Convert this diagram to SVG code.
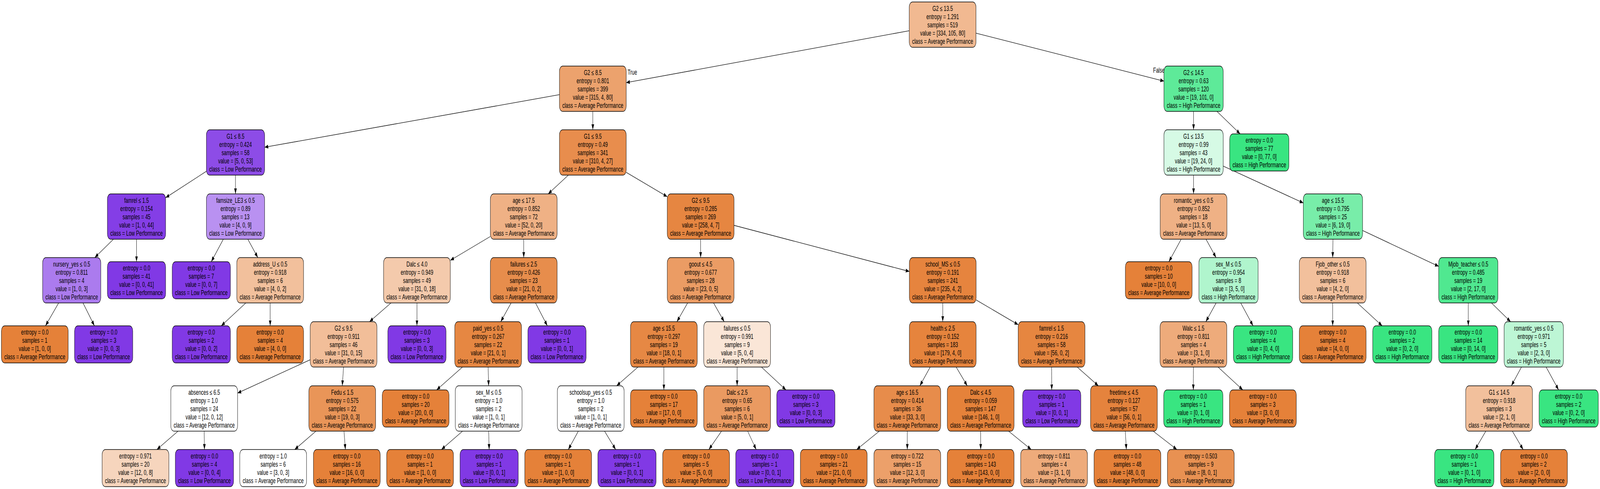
<svg xmlns="http://www.w3.org/2000/svg" width="6159" height="1251" viewBox="0 0 6159 1251" preserveAspectRatio="none" style="width:100vw;height:100vh;display:block">
<style>
.n rect{stroke:#000;stroke-width:1.3}
text{font-family:"Liberation Sans",Arial,Helvetica,sans-serif;font-size:18px;fill:#000}
.n text{text-anchor:middle}
.e line{stroke:#000;stroke-width:1.3;fill:none;marker-end:url(#ah)}
</style>
<defs>
<marker id="ah" markerUnits="userSpaceOnUse" markerWidth="16" markerHeight="12" refX="14" refY="5" orient="auto"><path d="M0,0 L14,5 L0,10 Z" fill="#000"/></marker>
</defs>
<rect width="6159" height="1251" fill="#fff"/>
<g id="connectors" class="e">
<line x1="3500" y1="78.6" x2="2410.5" y2="211.4"/>
<line x1="3757" y1="84.8" x2="4480.5" y2="207.6"/>
<line x1="2153.5" y1="242.2" x2="1018.5" y2="376.7"/>
<line x1="2282" y1="285" x2="2282" y2="332"/>
<line x1="4594.5" y1="285" x2="4594.5" y2="332"/>
<line x1="4684.5" y1="285" x2="4773.8" y2="342.5"/>
<line x1="794.5" y1="438.2" x2="637.5" y2="505.8"/>
<line x1="906.5" y1="448" x2="906.5" y2="496"/>
<line x1="2187.9" y1="448" x2="2110.1" y2="496"/>
<line x1="2410.5" y1="440.8" x2="2568.5" y2="503.2"/>
<line x1="4594.5" y1="448" x2="4594.5" y2="496"/>
<line x1="4708.5" y1="424.9" x2="5017" y2="519.2"/>
<line x1="436.7" y1="612" x2="364.8" y2="659"/>
<line x1="525.5" y1="612" x2="525.5" y2="669.5"/>
<line x1="859.7" y1="612" x2="813.3" y2="669.5"/>
<line x1="954" y1="612" x2="992.5" y2="659"/>
<line x1="1887.5" y1="605" x2="1733.5" y2="666"/>
<line x1="2016" y1="612" x2="2016" y2="659"/>
<line x1="2697" y1="612" x2="2697" y2="659"/>
<line x1="2825.5" y1="576.5" x2="3500.5" y2="694.5"/>
<line x1="4546.8" y1="612" x2="4499.5" y2="669.5"/>
<line x1="4642.4" y1="612" x2="4681.1" y2="659"/>
<line x1="5131" y1="612" x2="5130" y2="659"/>
<line x1="5245" y1="589.7" x2="5538" y2="681.3"/>
<line x1="225.8" y1="775" x2="175.1" y2="833.5"/>
<line x1="319.5" y1="775" x2="363.4" y2="833.5"/>
<line x1="946.3" y1="775" x2="851.7" y2="833.5"/>
<line x1="1040" y1="775" x2="1040" y2="833.5"/>
<line x1="1505.1" y1="775" x2="1422.4" y2="823"/>
<line x1="1605" y1="775" x2="1605" y2="833.5"/>
<line x1="1967.5" y1="775" x2="1927.5" y2="823"/>
<line x1="2061.3" y1="775" x2="2106.9" y2="833.5"/>
<line x1="2647" y1="775" x2="2605.6" y2="823"/>
<line x1="2746.7" y1="775" x2="2787.8" y2="823"/>
<line x1="3629" y1="775" x2="3629" y2="823"/>
<line x1="3757.5" y1="767.3" x2="3919.5" y2="830.7"/>
<line x1="4681.3" y1="775" x2="4641.7" y2="823"/>
<line x1="4776" y1="775" x2="4823.5" y2="833.5"/>
<line x1="5130" y1="775" x2="5130" y2="833.5"/>
<line x1="5224.8" y1="775" x2="5320.4" y2="833.5"/>
<line x1="5652" y1="775" x2="5652" y2="833.5"/>
<line x1="5741.1" y1="775" x2="5814.9" y2="823"/>
<line x1="1194" y1="920.3" x2="914.5" y2="1005.7"/>
<line x1="1322.5" y1="939" x2="1317.5" y2="987"/>
<line x1="1780.3" y1="939" x2="1680.8" y2="997.5"/>
<line x1="1879" y1="939" x2="1881" y2="987"/>
<line x1="2455.9" y1="939" x2="2373.6" y2="987"/>
<line x1="2555.5" y1="939" x2="2555.5" y2="997.5"/>
<line x1="2837.5" y1="939" x2="2837.5" y2="987"/>
<line x1="2931" y1="939" x2="3025.4" y2="997.5"/>
<line x1="3580.7" y1="939" x2="3540.8" y2="987"/>
<line x1="3680.6" y1="939" x2="3723.4" y2="987"/>
<line x1="4048" y1="939" x2="4048.5" y2="997.5"/>
<line x1="4146.5" y1="939" x2="4228" y2="987"/>
<line x1="4594" y1="939" x2="4593.5" y2="997.5"/>
<line x1="4688.6" y1="939" x2="4784" y2="997.5"/>
<line x1="5856.8" y1="939" x2="5817.7" y2="987"/>
<line x1="5951.6" y1="939" x2="5999.6" y2="997.5"/>
<line x1="685.4" y1="1103" x2="603.9" y2="1150"/>
<line x1="786" y1="1103" x2="787" y2="1150"/>
<line x1="1216.3" y1="1103" x2="1134.4" y2="1150"/>
<line x1="1324.2" y1="1103" x2="1329.5" y2="1150"/>
<line x1="1780.6" y1="1103" x2="1699.2" y2="1150"/>
<line x1="1881" y1="1103" x2="1883" y2="1150"/>
<line x1="2226.3" y1="1103" x2="2187.6" y2="1150"/>
<line x1="2327.1" y1="1103" x2="2370" y2="1150"/>
<line x1="2777.4" y1="1103" x2="2728.7" y2="1150"/>
<line x1="2878" y1="1103" x2="2910.8" y2="1150"/>
<line x1="3384.9" y1="1103" x2="3297.7" y2="1150"/>
<line x1="3492.5" y1="1103" x2="3492.5" y2="1150"/>
<line x1="3775" y1="1103" x2="3775" y2="1150"/>
<line x1="3882.4" y1="1103" x2="3969.5" y2="1150"/>
<line x1="4331.6" y1="1103" x2="4335.8" y2="1150"/>
<line x1="4439.1" y1="1103" x2="4530.3" y2="1150"/>
<line x1="5719.5" y1="1103" x2="5678.2" y2="1150"/>
<line x1="5821.7" y1="1103" x2="5863.1" y2="1150"/>
<text x="2416" y="191">True</text>
<text x="4439" y="186">False</text>
</g>
<g id="n0" class="n"><rect x="3500" y="5" width="257" height="116" rx="13" fill="#f1b991"/><text x="3628.5" y="28"><tspan x="3628.5">G2 ≤ 13.5</tspan><tspan x="3628.5" dy="21">entropy = 1.291</tspan><tspan x="3628.5" dy="21">samples = 519</tspan><tspan x="3628.5" dy="21">value = [334, 105, 80]</tspan><tspan x="3628.5" dy="21">class = Average Performance</tspan></text></g>
<g id="n1" class="n"><rect x="2153.5" y="169" width="257" height="116" rx="13" fill="#eca26d"/><text x="2282" y="192"><tspan x="2282">G2 ≤ 8.5</tspan><tspan x="2282" dy="21">entropy = 0.801</tspan><tspan x="2282" dy="21">samples = 399</tspan><tspan x="2282" dy="21">value = [315, 4, 80]</tspan><tspan x="2282" dy="21">class = Average Performance</tspan></text></g>
<g id="n2" class="n"><rect x="4480.5" y="169" width="228" height="116" rx="13" fill="#5eea99"/><text x="4594.5" y="192"><tspan x="4594.5">G2 ≤ 14.5</tspan><tspan x="4594.5" dy="21">entropy = 0.63</tspan><tspan x="4594.5" dy="21">samples = 120</tspan><tspan x="4594.5" dy="21">value = [19, 101, 0]</tspan><tspan x="4594.5" dy="21">class = High Performance</tspan></text></g>
<g id="n3" class="n"><rect x="794.5" y="332" width="224" height="116" rx="13" fill="#8d4ce7"/><text x="906.5" y="355"><tspan x="906.5">G1 ≤ 8.5</tspan><tspan x="906.5" dy="21">entropy = 0.424</tspan><tspan x="906.5" dy="21">samples = 58</tspan><tspan x="906.5" dy="21">value = [5, 0, 53]</tspan><tspan x="906.5" dy="21">class = Low Performance</tspan></text></g>
<g id="n4" class="n"><rect x="2153.5" y="332" width="257" height="116" rx="13" fill="#e88d4d"/><text x="2282" y="355"><tspan x="2282">G1 ≤ 9.5</tspan><tspan x="2282" dy="21">entropy = 0.49</tspan><tspan x="2282" dy="21">samples = 341</tspan><tspan x="2282" dy="21">value = [310, 4, 27]</tspan><tspan x="2282" dy="21">class = Average Performance</tspan></text></g>
<g id="n5" class="n"><rect x="4480.5" y="332" width="228" height="116" rx="13" fill="#d6fae5"/><text x="4594.5" y="355"><tspan x="4594.5">G1 ≤ 13.5</tspan><tspan x="4594.5" dy="21">entropy = 0.99</tspan><tspan x="4594.5" dy="21">samples = 43</tspan><tspan x="4594.5" dy="21">value = [19, 24, 0]</tspan><tspan x="4594.5" dy="21">class = High Performance</tspan></text></g>
<g id="n6" class="n"><rect x="4733.5" y="342.5" width="228" height="95" rx="13" fill="#39e581"/><text x="4847.5" y="365.5"><tspan x="4847.5">entropy = 0.0</tspan><tspan x="4847.5" dy="21">samples = 77</tspan><tspan x="4847.5" dy="21">value = [0, 77, 0]</tspan><tspan x="4847.5" dy="21">class = High Performance</tspan></text></g>
<g id="n7" class="n"><rect x="413.5" y="496" width="224" height="116" rx="13" fill="#843ee6"/><text x="525.5" y="519"><tspan x="525.5">famrel ≤ 1.5</tspan><tspan x="525.5" dy="21">entropy = 0.154</tspan><tspan x="525.5" dy="21">samples = 45</tspan><tspan x="525.5" dy="21">value = [1, 0, 44]</tspan><tspan x="525.5" dy="21">class = Low Performance</tspan></text></g>
<g id="n8" class="n"><rect x="794.5" y="496" width="224" height="116" rx="13" fill="#b991f1"/><text x="906.5" y="519"><tspan x="906.5">famsize_LE3 ≤ 0.5</tspan><tspan x="906.5" dy="21">entropy = 0.89</tspan><tspan x="906.5" dy="21">samples = 13</tspan><tspan x="906.5" dy="21">value = [4, 0, 9]</tspan><tspan x="906.5" dy="21">class = Low Performance</tspan></text></g>
<g id="n9" class="n"><rect x="1887.5" y="496" width="257" height="116" rx="13" fill="#efb185"/><text x="2016" y="519"><tspan x="2016">age ≤ 17.5</tspan><tspan x="2016" dy="21">entropy = 0.852</tspan><tspan x="2016" dy="21">samples = 72</tspan><tspan x="2016" dy="21">value = [52, 0, 20]</tspan><tspan x="2016" dy="21">class = Average Performance</tspan></text></g>
<g id="n10" class="n"><rect x="2568.5" y="496" width="257" height="116" rx="13" fill="#e68641"/><text x="2697" y="519"><tspan x="2697">G2 ≤ 9.5</tspan><tspan x="2697" dy="21">entropy = 0.285</tspan><tspan x="2697" dy="21">samples = 269</tspan><tspan x="2697" dy="21">value = [258, 4, 7]</tspan><tspan x="2697" dy="21">class = Average Performance</tspan></text></g>
<g id="n11" class="n"><rect x="4466" y="496" width="257" height="116" rx="13" fill="#efb185"/><text x="4594.5" y="519"><tspan x="4594.5">romantic_yes ≤ 0.5</tspan><tspan x="4594.5" dy="21">entropy = 0.852</tspan><tspan x="4594.5" dy="21">samples = 18</tspan><tspan x="4594.5" dy="21">value = [13, 5, 0]</tspan><tspan x="4594.5" dy="21">class = Average Performance</tspan></text></g>
<g id="n12" class="n"><rect x="5017" y="496" width="228" height="116" rx="13" fill="#78eda9"/><text x="5131" y="519"><tspan x="5131">age ≤ 15.5</tspan><tspan x="5131" dy="21">entropy = 0.795</tspan><tspan x="5131" dy="21">samples = 25</tspan><tspan x="5131" dy="21">value = [6, 19, 0]</tspan><tspan x="5131" dy="21">class = High Performance</tspan></text></g>
<g id="n13" class="n"><rect x="164" y="659" width="224" height="116" rx="13" fill="#ab7bee"/><text x="276" y="682"><tspan x="276">nursery_yes ≤ 0.5</tspan><tspan x="276" dy="21">entropy = 0.811</tspan><tspan x="276" dy="21">samples = 4</tspan><tspan x="276" dy="21">value = [1, 0, 3]</tspan><tspan x="276" dy="21">class = Low Performance</tspan></text></g>
<g id="n14" class="n"><rect x="413.5" y="669.5" width="224" height="95" rx="13" fill="#8139e5"/><text x="525.5" y="692.5"><tspan x="525.5">entropy = 0.0</tspan><tspan x="525.5" dy="21">samples = 41</tspan><tspan x="525.5" dy="21">value = [0, 0, 41]</tspan><tspan x="525.5" dy="21">class = Low Performance</tspan></text></g>
<g id="n15" class="n"><rect x="663" y="669.5" width="224" height="95" rx="13" fill="#8139e5"/><text x="775" y="692.5"><tspan x="775">entropy = 0.0</tspan><tspan x="775" dy="21">samples = 7</tspan><tspan x="775" dy="21">value = [0, 0, 7]</tspan><tspan x="775" dy="21">class = Low Performance</tspan></text></g>
<g id="n16" class="n"><rect x="911.5" y="659" width="257" height="116" rx="13" fill="#f2c09c"/><text x="1040" y="682"><tspan x="1040">address_U ≤ 0.5</tspan><tspan x="1040" dy="21">entropy = 0.918</tspan><tspan x="1040" dy="21">samples = 6</tspan><tspan x="1040" dy="21">value = [4, 0, 2]</tspan><tspan x="1040" dy="21">class = Average Performance</tspan></text></g>
<g id="n17" class="n"><rect x="1476.5" y="659" width="257" height="116" rx="13" fill="#f4caac"/><text x="1605" y="682"><tspan x="1605">Dalc ≤ 4.0</tspan><tspan x="1605" dy="21">entropy = 0.949</tspan><tspan x="1605" dy="21">samples = 49</tspan><tspan x="1605" dy="21">value = [31, 0, 18]</tspan><tspan x="1605" dy="21">class = Average Performance</tspan></text></g>
<g id="n18" class="n"><rect x="1887.5" y="659" width="257" height="116" rx="13" fill="#e78d4c"/><text x="2016" y="682"><tspan x="2016">failures ≤ 2.5</tspan><tspan x="2016" dy="21">entropy = 0.426</tspan><tspan x="2016" dy="21">samples = 23</tspan><tspan x="2016" dy="21">value = [21, 0, 2]</tspan><tspan x="2016" dy="21">class = Average Performance</tspan></text></g>
<g id="n19" class="n"><rect x="2568.5" y="659" width="257" height="116" rx="13" fill="#eb9c64"/><text x="2697" y="682"><tspan x="2697">goout ≤ 4.5</tspan><tspan x="2697" dy="21">entropy = 0.677</tspan><tspan x="2697" dy="21">samples = 28</tspan><tspan x="2697" dy="21">value = [23, 0, 5]</tspan><tspan x="2697" dy="21">class = Average Performance</tspan></text></g>
<g id="n20" class="n"><rect x="3500.5" y="659" width="257" height="116" rx="13" fill="#e6843e"/><text x="3629" y="682"><tspan x="3629">school_MS ≤ 0.5</tspan><tspan x="3629" dy="21">entropy = 0.191</tspan><tspan x="3629" dy="21">samples = 241</tspan><tspan x="3629" dy="21">value = [235, 4, 2]</tspan><tspan x="3629" dy="21">class = Average Performance</tspan></text></g>
<g id="n21" class="n"><rect x="4332" y="669.5" width="257" height="95" rx="13" fill="#e58139"/><text x="4460.5" y="692.5"><tspan x="4460.5">entropy = 0.0</tspan><tspan x="4460.5" dy="21">samples = 10</tspan><tspan x="4460.5" dy="21">value = [10, 0, 0]</tspan><tspan x="4460.5" dy="21">class = Average Performance</tspan></text></g>
<g id="n22" class="n"><rect x="4615" y="659" width="228" height="116" rx="13" fill="#b0f5cd"/><text x="4729" y="682"><tspan x="4729">sex_M ≤ 0.5</tspan><tspan x="4729" dy="21">entropy = 0.954</tspan><tspan x="4729" dy="21">samples = 8</tspan><tspan x="4729" dy="21">value = [3, 5, 0]</tspan><tspan x="4729" dy="21">class = High Performance</tspan></text></g>
<g id="n23" class="n"><rect x="5001.5" y="659" width="257" height="116" rx="13" fill="#f2c09c"/><text x="5130" y="682"><tspan x="5130">Fjob_other ≤ 0.5</tspan><tspan x="5130" dy="21">entropy = 0.918</tspan><tspan x="5130" dy="21">samples = 6</tspan><tspan x="5130" dy="21">value = [4, 2, 0]</tspan><tspan x="5130" dy="21">class = Average Performance</tspan></text></g>
<g id="n24" class="n"><rect x="5538" y="659" width="228" height="116" rx="13" fill="#50e890"/><text x="5652" y="682"><tspan x="5652">Mjob_teacher ≤ 0.5</tspan><tspan x="5652" dy="21">entropy = 0.485</tspan><tspan x="5652" dy="21">samples = 19</tspan><tspan x="5652" dy="21">value = [2, 17, 0]</tspan><tspan x="5652" dy="21">class = High Performance</tspan></text></g>
<g id="n25" class="n"><rect x="5.5" y="833.5" width="257" height="95" rx="13" fill="#e58139"/><text x="134" y="856.5"><tspan x="134">entropy = 0.0</tspan><tspan x="134" dy="21">samples = 1</tspan><tspan x="134" dy="21">value = [1, 0, 0]</tspan><tspan x="134" dy="21">class = Average Performance</tspan></text></g>
<g id="n26" class="n"><rect x="287" y="833.5" width="224" height="95" rx="13" fill="#8139e5"/><text x="399" y="856.5"><tspan x="399">entropy = 0.0</tspan><tspan x="399" dy="21">samples = 3</tspan><tspan x="399" dy="21">value = [0, 0, 3]</tspan><tspan x="399" dy="21">class = Low Performance</tspan></text></g>
<g id="n27" class="n"><rect x="663" y="833.5" width="224" height="95" rx="13" fill="#8139e5"/><text x="775" y="856.5"><tspan x="775">entropy = 0.0</tspan><tspan x="775" dy="21">samples = 2</tspan><tspan x="775" dy="21">value = [0, 0, 2]</tspan><tspan x="775" dy="21">class = Low Performance</tspan></text></g>
<g id="n28" class="n"><rect x="911.5" y="833.5" width="257" height="95" rx="13" fill="#e58139"/><text x="1040" y="856.5"><tspan x="1040">entropy = 0.0</tspan><tspan x="1040" dy="21">samples = 4</tspan><tspan x="1040" dy="21">value = [4, 0, 0]</tspan><tspan x="1040" dy="21">class = Average Performance</tspan></text></g>
<g id="n29" class="n"><rect x="1194" y="823" width="257" height="116" rx="13" fill="#f2be99"/><text x="1322.5" y="846"><tspan x="1322.5">G2 ≤ 9.5</tspan><tspan x="1322.5" dy="21">entropy = 0.911</tspan><tspan x="1322.5" dy="21">samples = 46</tspan><tspan x="1322.5" dy="21">value = [31, 0, 15]</tspan><tspan x="1322.5" dy="21">class = Average Performance</tspan></text></g>
<g id="n30" class="n"><rect x="1493" y="833.5" width="224" height="95" rx="13" fill="#8139e5"/><text x="1605" y="856.5"><tspan x="1605">entropy = 0.0</tspan><tspan x="1605" dy="21">samples = 3</tspan><tspan x="1605" dy="21">value = [0, 0, 3]</tspan><tspan x="1605" dy="21">class = Low Performance</tspan></text></g>
<g id="n31" class="n"><rect x="1750.5" y="823" width="257" height="116" rx="13" fill="#e68742"/><text x="1879" y="846"><tspan x="1879">paid_yes ≤ 0.5</tspan><tspan x="1879" dy="21">entropy = 0.267</tspan><tspan x="1879" dy="21">samples = 22</tspan><tspan x="1879" dy="21">value = [21, 0, 1]</tspan><tspan x="1879" dy="21">class = Average Performance</tspan></text></g>
<g id="n32" class="n"><rect x="2032" y="833.5" width="224" height="95" rx="13" fill="#8139e5"/><text x="2144" y="856.5"><tspan x="2144">entropy = 0.0</tspan><tspan x="2144" dy="21">samples = 1</tspan><tspan x="2144" dy="21">value = [0, 0, 1]</tspan><tspan x="2144" dy="21">class = Low Performance</tspan></text></g>
<g id="n33" class="n"><rect x="2427" y="823" width="257" height="116" rx="13" fill="#e68844"/><text x="2555.5" y="846"><tspan x="2555.5">age ≤ 15.5</tspan><tspan x="2555.5" dy="21">entropy = 0.297</tspan><tspan x="2555.5" dy="21">samples = 19</tspan><tspan x="2555.5" dy="21">value = [18, 0, 1]</tspan><tspan x="2555.5" dy="21">class = Average Performance</tspan></text></g>
<g id="n34" class="n"><rect x="2709" y="823" width="257" height="116" rx="13" fill="#fae6d7"/><text x="2837.5" y="846"><tspan x="2837.5">failures ≤ 0.5</tspan><tspan x="2837.5" dy="21">entropy = 0.991</tspan><tspan x="2837.5" dy="21">samples = 9</tspan><tspan x="2837.5" dy="21">value = [5, 0, 4]</tspan><tspan x="2837.5" dy="21">class = Average Performance</tspan></text></g>
<g id="n35" class="n"><rect x="3500.5" y="823" width="257" height="116" rx="13" fill="#e6843d"/><text x="3629" y="846"><tspan x="3629">health ≤ 2.5</tspan><tspan x="3629" dy="21">entropy = 0.152</tspan><tspan x="3629" dy="21">samples = 183</tspan><tspan x="3629" dy="21">value = [179, 4, 0]</tspan><tspan x="3629" dy="21">class = Average Performance</tspan></text></g>
<g id="n36" class="n"><rect x="3919.5" y="823" width="257" height="116" rx="13" fill="#e68640"/><text x="4048" y="846"><tspan x="4048">famrel ≤ 1.5</tspan><tspan x="4048" dy="21">entropy = 0.216</tspan><tspan x="4048" dy="21">samples = 58</tspan><tspan x="4048" dy="21">value = [56, 0, 2]</tspan><tspan x="4048" dy="21">class = Average Performance</tspan></text></g>
<g id="n37" class="n"><rect x="4465.5" y="823" width="257" height="116" rx="13" fill="#eeab7b"/><text x="4594" y="846"><tspan x="4594">Walc ≤ 1.5</tspan><tspan x="4594" dy="21">entropy = 0.811</tspan><tspan x="4594" dy="21">samples = 4</tspan><tspan x="4594" dy="21">value = [3, 1, 0]</tspan><tspan x="4594" dy="21">class = Average Performance</tspan></text></g>
<g id="n38" class="n"><rect x="4748" y="833.5" width="228" height="95" rx="13" fill="#39e581"/><text x="4862" y="856.5"><tspan x="4862">entropy = 0.0</tspan><tspan x="4862" dy="21">samples = 4</tspan><tspan x="4862" dy="21">value = [0, 4, 0]</tspan><tspan x="4862" dy="21">class = High Performance</tspan></text></g>
<g id="n39" class="n"><rect x="5001.5" y="833.5" width="257" height="95" rx="13" fill="#e58139"/><text x="5130" y="856.5"><tspan x="5130">entropy = 0.0</tspan><tspan x="5130" dy="21">samples = 4</tspan><tspan x="5130" dy="21">value = [4, 0, 0]</tspan><tspan x="5130" dy="21">class = Average Performance</tspan></text></g>
<g id="n40" class="n"><rect x="5284" y="833.5" width="228" height="95" rx="13" fill="#39e581"/><text x="5398" y="856.5"><tspan x="5398">entropy = 0.0</tspan><tspan x="5398" dy="21">samples = 2</tspan><tspan x="5398" dy="21">value = [0, 2, 0]</tspan><tspan x="5398" dy="21">class = High Performance</tspan></text></g>
<g id="n41" class="n"><rect x="5538" y="833.5" width="228" height="95" rx="13" fill="#39e581"/><text x="5652" y="856.5"><tspan x="5652">entropy = 0.0</tspan><tspan x="5652" dy="21">samples = 14</tspan><tspan x="5652" dy="21">value = [0, 14, 0]</tspan><tspan x="5652" dy="21">class = High Performance</tspan></text></g>
<g id="n42" class="n"><rect x="5790" y="823" width="228" height="116" rx="13" fill="#bdf6d5"/><text x="5904" y="846"><tspan x="5904">romantic_yes ≤ 0.5</tspan><tspan x="5904" dy="21">entropy = 0.971</tspan><tspan x="5904" dy="21">samples = 5</tspan><tspan x="5904" dy="21">value = [2, 3, 0]</tspan><tspan x="5904" dy="21">class = High Performance</tspan></text></g>
<g id="n43" class="n"><rect x="657.5" y="987" width="257" height="116" rx="13" fill="#ffffff"/><text x="786" y="1010"><tspan x="786">absences ≤ 6.5</tspan><tspan x="786" dy="21">entropy = 1.0</tspan><tspan x="786" dy="21">samples = 24</tspan><tspan x="786" dy="21">value = [12, 0, 12]</tspan><tspan x="786" dy="21">class = Average Performance</tspan></text></g>
<g id="n44" class="n"><rect x="1189" y="987" width="257" height="116" rx="13" fill="#e99558"/><text x="1317.5" y="1010"><tspan x="1317.5">Fedu ≤ 1.5</tspan><tspan x="1317.5" dy="21">entropy = 0.575</tspan><tspan x="1317.5" dy="21">samples = 22</tspan><tspan x="1317.5" dy="21">value = [19, 0, 3]</tspan><tspan x="1317.5" dy="21">class = Average Performance</tspan></text></g>
<g id="n45" class="n"><rect x="1471.5" y="997.5" width="257" height="95" rx="13" fill="#e58139"/><text x="1600" y="1020.5"><tspan x="1600">entropy = 0.0</tspan><tspan x="1600" dy="21">samples = 20</tspan><tspan x="1600" dy="21">value = [20, 0, 0]</tspan><tspan x="1600" dy="21">class = Average Performance</tspan></text></g>
<g id="n46" class="n"><rect x="1752.5" y="987" width="257" height="116" rx="13" fill="#ffffff"/><text x="1881" y="1010"><tspan x="1881">sex_M ≤ 0.5</tspan><tspan x="1881" dy="21">entropy = 1.0</tspan><tspan x="1881" dy="21">samples = 2</tspan><tspan x="1881" dy="21">value = [1, 0, 1]</tspan><tspan x="1881" dy="21">class = Average Performance</tspan></text></g>
<g id="n47" class="n"><rect x="2145.5" y="987" width="257" height="116" rx="13" fill="#ffffff"/><text x="2274" y="1010"><tspan x="2274">schoolsup_yes ≤ 0.5</tspan><tspan x="2274" dy="21">entropy = 1.0</tspan><tspan x="2274" dy="21">samples = 2</tspan><tspan x="2274" dy="21">value = [1, 0, 1]</tspan><tspan x="2274" dy="21">class = Average Performance</tspan></text></g>
<g id="n48" class="n"><rect x="2427" y="997.5" width="257" height="95" rx="13" fill="#e58139"/><text x="2555.5" y="1020.5"><tspan x="2555.5">entropy = 0.0</tspan><tspan x="2555.5" dy="21">samples = 17</tspan><tspan x="2555.5" dy="21">value = [17, 0, 0]</tspan><tspan x="2555.5" dy="21">class = Average Performance</tspan></text></g>
<g id="n49" class="n"><rect x="2709" y="987" width="257" height="116" rx="13" fill="#ea9a61"/><text x="2837.5" y="1010"><tspan x="2837.5">Dalc ≤ 2.5</tspan><tspan x="2837.5" dy="21">entropy = 0.65</tspan><tspan x="2837.5" dy="21">samples = 6</tspan><tspan x="2837.5" dy="21">value = [5, 0, 1]</tspan><tspan x="2837.5" dy="21">class = Average Performance</tspan></text></g>
<g id="n50" class="n"><rect x="2990" y="997.5" width="224" height="95" rx="13" fill="#8139e5"/><text x="3102" y="1020.5"><tspan x="3102">entropy = 0.0</tspan><tspan x="3102" dy="21">samples = 3</tspan><tspan x="3102" dy="21">value = [0, 0, 3]</tspan><tspan x="3102" dy="21">class = Low Performance</tspan></text></g>
<g id="n51" class="n"><rect x="3364" y="987" width="257" height="116" rx="13" fill="#e78c4b"/><text x="3492.5" y="1010"><tspan x="3492.5">age ≤ 16.5</tspan><tspan x="3492.5" dy="21">entropy = 0.414</tspan><tspan x="3492.5" dy="21">samples = 36</tspan><tspan x="3492.5" dy="21">value = [33, 3, 0]</tspan><tspan x="3492.5" dy="21">class = Average Performance</tspan></text></g>
<g id="n52" class="n"><rect x="3646.5" y="987" width="257" height="116" rx="13" fill="#e5823a"/><text x="3775" y="1010"><tspan x="3775">Dalc ≤ 4.5</tspan><tspan x="3775" dy="21">entropy = 0.059</tspan><tspan x="3775" dy="21">samples = 147</tspan><tspan x="3775" dy="21">value = [146, 1, 0]</tspan><tspan x="3775" dy="21">class = Average Performance</tspan></text></g>
<g id="n53" class="n"><rect x="3936.5" y="997.5" width="224" height="95" rx="13" fill="#8139e5"/><text x="4048.5" y="1020.5"><tspan x="4048.5">entropy = 0.0</tspan><tspan x="4048.5" dy="21">samples = 1</tspan><tspan x="4048.5" dy="21">value = [0, 0, 1]</tspan><tspan x="4048.5" dy="21">class = Low Performance</tspan></text></g>
<g id="n54" class="n"><rect x="4198" y="987" width="257" height="116" rx="13" fill="#e5833d"/><text x="4326.5" y="1010"><tspan x="4326.5">freetime ≤ 4.5</tspan><tspan x="4326.5" dy="21">entropy = 0.127</tspan><tspan x="4326.5" dy="21">samples = 57</tspan><tspan x="4326.5" dy="21">value = [56, 0, 1]</tspan><tspan x="4326.5" dy="21">class = Average Performance</tspan></text></g>
<g id="n55" class="n"><rect x="4479.5" y="997.5" width="228" height="95" rx="13" fill="#39e581"/><text x="4593.5" y="1020.5"><tspan x="4593.5">entropy = 0.0</tspan><tspan x="4593.5" dy="21">samples = 1</tspan><tspan x="4593.5" dy="21">value = [0, 1, 0]</tspan><tspan x="4593.5" dy="21">class = High Performance</tspan></text></g>
<g id="n56" class="n"><rect x="4733" y="997.5" width="257" height="95" rx="13" fill="#e58139"/><text x="4861.5" y="1020.5"><tspan x="4861.5">entropy = 0.0</tspan><tspan x="4861.5" dy="21">samples = 3</tspan><tspan x="4861.5" dy="21">value = [3, 0, 0]</tspan><tspan x="4861.5" dy="21">class = Average Performance</tspan></text></g>
<g id="n57" class="n"><rect x="5642" y="987" width="257" height="116" rx="13" fill="#f2c09c"/><text x="5770.5" y="1010"><tspan x="5770.5">G1 ≤ 14.5</tspan><tspan x="5770.5" dy="21">entropy = 0.918</tspan><tspan x="5770.5" dy="21">samples = 3</tspan><tspan x="5770.5" dy="21">value = [2, 1, 0]</tspan><tspan x="5770.5" dy="21">class = Average Performance</tspan></text></g>
<g id="n58" class="n"><rect x="5924.5" y="997.5" width="228" height="95" rx="13" fill="#39e581"/><text x="6038.5" y="1020.5"><tspan x="6038.5">entropy = 0.0</tspan><tspan x="6038.5" dy="21">samples = 2</tspan><tspan x="6038.5" dy="21">value = [0, 2, 0]</tspan><tspan x="6038.5" dy="21">class = High Performance</tspan></text></g>
<g id="n59" class="n"><rect x="393" y="1150" width="257" height="95" rx="13" fill="#f6d5bd"/><text x="521.5" y="1173"><tspan x="521.5">entropy = 0.971</tspan><tspan x="521.5" dy="21">samples = 20</tspan><tspan x="521.5" dy="21">value = [12, 0, 8]</tspan><tspan x="521.5" dy="21">class = Average Performance</tspan></text></g>
<g id="n60" class="n"><rect x="675" y="1150" width="224" height="95" rx="13" fill="#8139e5"/><text x="787" y="1173"><tspan x="787">entropy = 0.0</tspan><tspan x="787" dy="21">samples = 4</tspan><tspan x="787" dy="21">value = [0, 0, 4]</tspan><tspan x="787" dy="21">class = Low Performance</tspan></text></g>
<g id="n61" class="n"><rect x="923" y="1150" width="257" height="95" rx="13" fill="#ffffff"/><text x="1051.5" y="1173"><tspan x="1051.5">entropy = 1.0</tspan><tspan x="1051.5" dy="21">samples = 6</tspan><tspan x="1051.5" dy="21">value = [3, 0, 3]</tspan><tspan x="1051.5" dy="21">class = Average Performance</tspan></text></g>
<g id="n62" class="n"><rect x="1206.5" y="1150" width="257" height="95" rx="13" fill="#e58139"/><text x="1335" y="1173"><tspan x="1335">entropy = 0.0</tspan><tspan x="1335" dy="21">samples = 16</tspan><tspan x="1335" dy="21">value = [16, 0, 0]</tspan><tspan x="1335" dy="21">class = Average Performance</tspan></text></g>
<g id="n63" class="n"><rect x="1488.5" y="1150" width="257" height="95" rx="13" fill="#e58139"/><text x="1617" y="1173"><tspan x="1617">entropy = 0.0</tspan><tspan x="1617" dy="21">samples = 1</tspan><tspan x="1617" dy="21">value = [1, 0, 0]</tspan><tspan x="1617" dy="21">class = Average Performance</tspan></text></g>
<g id="n64" class="n"><rect x="1771" y="1150" width="224" height="95" rx="13" fill="#8139e5"/><text x="1883" y="1173"><tspan x="1883">entropy = 0.0</tspan><tspan x="1883" dy="21">samples = 1</tspan><tspan x="1883" dy="21">value = [0, 0, 1]</tspan><tspan x="1883" dy="21">class = Low Performance</tspan></text></g>
<g id="n65" class="n"><rect x="2020" y="1150" width="257" height="95" rx="13" fill="#e58139"/><text x="2148.5" y="1173"><tspan x="2148.5">entropy = 0.0</tspan><tspan x="2148.5" dy="21">samples = 1</tspan><tspan x="2148.5" dy="21">value = [1, 0, 0]</tspan><tspan x="2148.5" dy="21">class = Average Performance</tspan></text></g>
<g id="n66" class="n"><rect x="2301.5" y="1150" width="224" height="95" rx="13" fill="#8139e5"/><text x="2413.5" y="1173"><tspan x="2413.5">entropy = 0.0</tspan><tspan x="2413.5" dy="21">samples = 1</tspan><tspan x="2413.5" dy="21">value = [0, 0, 1]</tspan><tspan x="2413.5" dy="21">class = Low Performance</tspan></text></g>
<g id="n67" class="n"><rect x="2551" y="1150" width="257" height="95" rx="13" fill="#e58139"/><text x="2679.5" y="1173"><tspan x="2679.5">entropy = 0.0</tspan><tspan x="2679.5" dy="21">samples = 5</tspan><tspan x="2679.5" dy="21">value = [5, 0, 0]</tspan><tspan x="2679.5" dy="21">class = Average Performance</tspan></text></g>
<g id="n68" class="n"><rect x="2832" y="1150" width="224" height="95" rx="13" fill="#8139e5"/><text x="2944" y="1173"><tspan x="2944">entropy = 0.0</tspan><tspan x="2944" dy="21">samples = 1</tspan><tspan x="2944" dy="21">value = [0, 0, 1]</tspan><tspan x="2944" dy="21">class = Low Performance</tspan></text></g>
<g id="n69" class="n"><rect x="3081" y="1150" width="257" height="95" rx="13" fill="#e58139"/><text x="3209.5" y="1173"><tspan x="3209.5">entropy = 0.0</tspan><tspan x="3209.5" dy="21">samples = 21</tspan><tspan x="3209.5" dy="21">value = [21, 0, 0]</tspan><tspan x="3209.5" dy="21">class = Average Performance</tspan></text></g>
<g id="n70" class="n"><rect x="3364" y="1150" width="257" height="95" rx="13" fill="#eca06a"/><text x="3492.5" y="1173"><tspan x="3492.5">entropy = 0.722</tspan><tspan x="3492.5" dy="21">samples = 15</tspan><tspan x="3492.5" dy="21">value = [12, 3, 0]</tspan><tspan x="3492.5" dy="21">class = Average Performance</tspan></text></g>
<g id="n71" class="n"><rect x="3646.5" y="1150" width="257" height="95" rx="13" fill="#e58139"/><text x="3775" y="1173"><tspan x="3775">entropy = 0.0</tspan><tspan x="3775" dy="21">samples = 143</tspan><tspan x="3775" dy="21">value = [143, 0, 0]</tspan><tspan x="3775" dy="21">class = Average Performance</tspan></text></g>
<g id="n72" class="n"><rect x="3929" y="1150" width="257" height="95" rx="13" fill="#eeab7b"/><text x="4057.5" y="1173"><tspan x="4057.5">entropy = 0.811</tspan><tspan x="4057.5" dy="21">samples = 4</tspan><tspan x="4057.5" dy="21">value = [3, 1, 0]</tspan><tspan x="4057.5" dy="21">class = Average Performance</tspan></text></g>
<g id="n73" class="n"><rect x="4211.5" y="1150" width="257" height="95" rx="13" fill="#e58139"/><text x="4340" y="1173"><tspan x="4340">entropy = 0.0</tspan><tspan x="4340" dy="21">samples = 48</tspan><tspan x="4340" dy="21">value = [48, 0, 0]</tspan><tspan x="4340" dy="21">class = Average Performance</tspan></text></g>
<g id="n74" class="n"><rect x="4494" y="1150" width="257" height="95" rx="13" fill="#e89152"/><text x="4622.5" y="1173"><tspan x="4622.5">entropy = 0.503</tspan><tspan x="4622.5" dy="21">samples = 9</tspan><tspan x="4622.5" dy="21">value = [8, 0, 1]</tspan><tspan x="4622.5" dy="21">class = Average Performance</tspan></text></g>
<g id="n75" class="n"><rect x="5522.5" y="1150" width="228" height="95" rx="13" fill="#39e581"/><text x="5636.5" y="1173"><tspan x="5636.5">entropy = 0.0</tspan><tspan x="5636.5" dy="21">samples = 1</tspan><tspan x="5636.5" dy="21">value = [0, 1, 0]</tspan><tspan x="5636.5" dy="21">class = High Performance</tspan></text></g>
<g id="n76" class="n"><rect x="5776.5" y="1150" width="257" height="95" rx="13" fill="#e58139"/><text x="5905" y="1173"><tspan x="5905">entropy = 0.0</tspan><tspan x="5905" dy="21">samples = 2</tspan><tspan x="5905" dy="21">value = [2, 0, 0]</tspan><tspan x="5905" dy="21">class = Average Performance</tspan></text></g>
</svg>
